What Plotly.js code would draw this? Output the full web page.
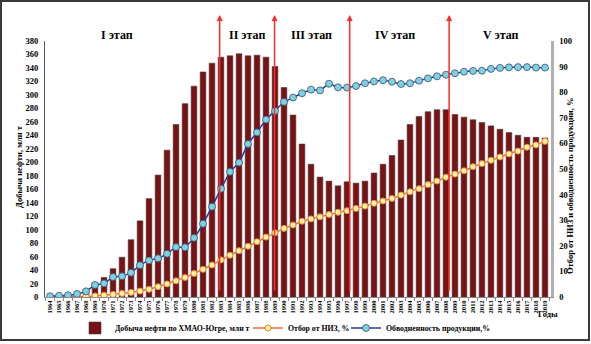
<!DOCTYPE html>
<html><head><meta charset="utf-8">
<script src="https://cdn.plot.ly/plotly-3.0.1.min.js"></script>
<style>
html,body{margin:0;padding:0;background:#fff;}
#wrap{position:relative;width:591px;height:344px;}
#chart{position:absolute;left:0;top:0;width:591px;height:344px;}
#frame{position:absolute;left:0;top:0;width:590px;height:341px;box-sizing:border-box;border:2px solid #3a3a3a;pointer-events:none;}
</style></head>
<body><div id="wrap"><div id="chart"></div><div id="frame"></div></div>
<script>
const years = [1964,1965,1966,1967,1968,1969,1970,1971,1972,1973,1974,1975,1976,1977,1978,1979,1980,1981,1982,1983,1984,1985,1986,1987,1988,1989,1990,1991,1992,1993,1994,1995,1996,1997,1998,1999,2000,2001,2002,2003,2004,2005,2006,2007,2008,2009,2010,2011,2012,2013,2014,2015,2016,2017,2018,2019];
const production = [0.2,1,2.5,4,8,21,29,42,59,85,113,146,181,218,256,287,313,334,347,356,358,361,358,359,356,342,311,270,227,197,178,172,165,171,169,172,184,197,210,233,256,268,275,278,278,271,267,263,259,254,249,244,240,237,237,236];
const recovery = [0,0,0,0.1,0.2,0.4,0.7,1.0,1.4,1.8,2.3,3.0,4.0,5.1,6.3,7.6,9.2,10.8,12.5,14.5,16.3,18.1,19.8,21.6,23.4,25.1,26.8,28.1,29.6,30.5,31.3,32.2,33.1,33.7,34.6,35.5,36.6,37.5,38.5,39.8,41.1,42.3,43.9,45.3,46.8,48.0,49.3,50.9,52.1,53.4,54.7,55.9,57.0,58.5,59.4,60.8];
const waterCut = [0.3,0.5,0.7,1.2,2.2,4.7,5.3,7.8,8.1,9.5,12.4,14.3,15.1,16.9,19.5,19.4,23.1,28.6,35.3,42.3,48.9,52.5,59.8,64.3,69.3,72.7,76.2,77.9,79.6,81.0,80.7,83.3,81.9,81.8,82.4,83.5,84.2,84.7,84.1,83.2,83.5,84.5,85.4,86.2,86.8,87.4,88.0,88.3,88.4,89.1,89.5,89.7,89.8,89.8,89.6,89.6];
const labelYears = [1982,1985,1996,2007,2019];
const labelTexts = ["347","361","165","278","236"];
const stageNames = ["I этап","II этап","III этап","IV этап","V этап"];
const stageLabelYears = [1971.4,1985.9,1993.1,2002.3,2014.1];
const stageBounds = [1982.85,1988.95,1997.3,2008.35];
const seriesNames = ["Добыча нефти по ХМАО-Югре, млн т","Отбор от НИЗ, %","Обводненность продукции,%"];

const cats = years.map(String);
const idx = y => y - years[0];
const serif = 'Liberation Serif';
const fontB = (s,c) => ({family: serif, size: s, color: c || '#000', weight: 'bold'});

const traces = [
  {type:'bar', x:cats, y:production, name:seriesNames[0], legend:'legend',
   marker:{color:'#7a1214', line:{color:'#3c3c3c', width:0.6}}},
  {type:'scatter', mode:'lines+markers', x:cats, y:recovery, yaxis:'y2', name:seriesNames[1], legend:'legend2',
   line:{color:'#f06a3c', width:1.5},
   marker:{size:6, color:'#fff29a', line:{color:'#f08a3c', width:1}}},
  {type:'scatter', mode:'lines+markers', x:cats, y:waterCut, yaxis:'y2', name:seriesNames[2], legend:'legend3',
   line:{color:'#2b3aa0', width:1.5, shape:'spline', smoothing:0.3},
   marker:{size:7, color:'#7fd0e0', line:{color:'#3f4f70', width:0.8}}}
];

const annotations = [];
labelYears.forEach((y,k)=>{
  const offs = {1982:[-8,4],1985:[0,5],1996:[-4,12],2007:[-9,22],2019:[-7,8]}[y];
  annotations.push({x:String(y), y:production[idx(y)], xref:'x', yref:'y', text:labelTexts[k],
    showarrow:false, yanchor:'bottom', xshift:offs[0], yshift:offs[1], font:fontB(8.5)});
});
stageNames.forEach((s,k)=>{
  annotations.push({x:stageLabelYears[k]-years[0], y:1.0586, xref:'x', yref:'paper', text:s,
    showarrow:false, font:{family:serif, size:12, color:'#000', weight:'bold'}});
});
stageBounds.forEach(b=>{
  annotations.push({x:b-years[0], y:1.1016, xref:'x', yref:'paper', text:'', showarrow:true,
    arrowhead:2, arrowsize:0.8, arrowwidth:1.5, arrowcolor:'#ff2a2a', ax:0, ay:277, axref:'pixel', ayref:'pixel'});
});
annotations.push({x:-0.0652, y:0.508, xref:'paper', yref:'paper', text:'Добыча нефти, млн т', textangle:-90, showarrow:false, font:fontB(8.5)});
annotations.push({x:1.0514, y:0.4336, xref:'paper', yref:'paper', text:'Отбор от НИЗ и обводненность продукции, %', textangle:-90, showarrow:false, font:fontB(8.5)});
annotations.push({x:1.0178, y:-0.094, xref:'paper', yref:'paper', text:'Годы', showarrow:false, font:fontB(8.5)});

const legBase = {orientation:'h', xref:'container', yref:'container', xanchor:'left', y:1-328/344, yanchor:'middle',
  font:fontB(7.8), bgcolor:'rgba(0,0,0,0)', itemwidth:30};

const layout = {
  width:591, height:344,
  margin:{l:45, r:40, t:41, b:47},
  paper_bgcolor:'#fff', plot_bgcolor:'#fff',
  bargap:0.37, showlegend:true,
  font:{family:serif},
  xaxis:{type:'category', range:[-0.56,55.67], showgrid:false, zeroline:false,
    showline:true, linecolor:'#8a8a8a', linewidth:1, ticks:'outside', ticklen:3, tickcolor:'#8a8a8a',
    tickson:'boundaries', tickangle:-90, tickfont:fontB(6.5), automargin:false},
  yaxis:{range:[0,380], dtick:20, showgrid:false, zeroline:false, showline:true, linecolor:'#555', linewidth:1,
    ticks:'', tickfont:fontB(8.5), automargin:false, ticklabelstandoff:4},
  yaxis2:{overlaying:'y', side:'right', range:[0,100], dtick:10, showgrid:false, zeroline:false,
    showline:true, linecolor:'#b0b0b0', linewidth:2.5, ticks:'', tickfont:fontB(8.5), automargin:false, ticklabelstandoff:4},
  legend:Object.assign({}, legBase, {x:75/591}),
  legend2:Object.assign({}, legBase, {x:248/591}),
  legend3:Object.assign({}, legBase, {x:346/591}),
  annotations:annotations
};
Plotly.newPlot('chart', traces, layout, {displayModeBar:false, staticPlot:true});
</script></body></html>
